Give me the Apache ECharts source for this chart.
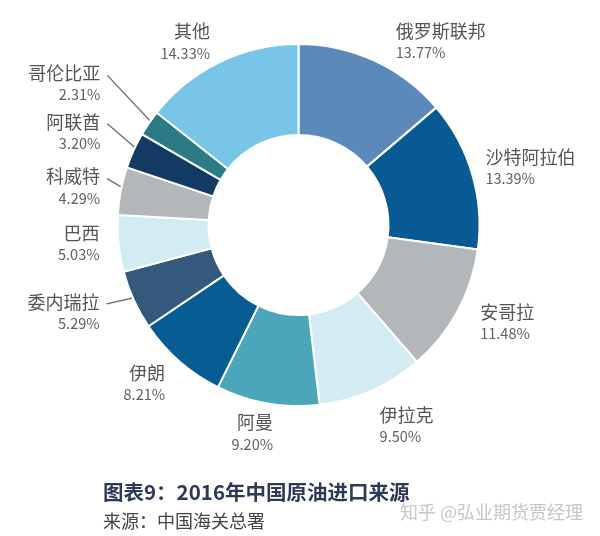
<!DOCTYPE html>
<html>
<head>
<meta charset="utf-8">
<script src="https://cdn.jsdelivr.net/npm/echarts@6/dist/echarts.min.js"></script>
<style>
html,body{margin:0;padding:0;background:#fff;}
#c{width:600px;height:536px;}
</style>
</head>
<body>
<div id="c"></div>
<script>
const countries = ['俄罗斯联邦','沙特阿拉伯','安哥拉','伊拉克','阿曼','伊朗','委内瑞拉','巴西','科威特','阿联酋','哥伦比亚','其他'];
const shares = [13.77,13.39,11.48,9.50,9.20,8.21,5.29,5.03,4.29,3.20,2.31,14.33];

// styling (not data)
const colors = ['#5b8aba','#075a93','#b4b7ba','#d3ebf3','#4ca6ba','#075c94','#34597c','#d3ebf3','#b4b7ba','#123a63','#2c7a85','#79c5e7'];
const withLine = [false,false,false,false,false,false,true,false,true,true,true,false];
const labelNudge = [[8,-1],[-11,-1],[0,2],[-5,17],[14,10],[4,7],[-11,4],[6,-2],[4,0],[-10,-10],[-27,-28],[4,-2]];

const CENTER = [298.5, 225];
const R_OUT = 181;
const FONT = '"Noto Sans CJK SC", "Noto Sans", sans-serif';
const chart = echarts.init(document.getElementById('c'));
chart.setOption({
  animation:false,
  graphic:[
    {type:'text', x:103, y:492, style:{text:'图表9：2016年中国原油进口来源', font:'bold 20.5px '+FONT, fill:'#2c3a57', verticalAlign:'middle'}},
    {type:'text', x:103, y:521, style:{text:'来源：中国海关总署', font:'18px '+FONT, fill:'#444', verticalAlign:'middle'}},
    {type:'text', x:400, y:512, style:{text:'知乎 @弘业期货贾经理', font:'18px '+FONT, fill:'#c6c6c6', verticalAlign:'middle'}}
  ],
  series:[{
    type:'pie',
    center:CENTER,
    radius:[90,R_OUT],
    startAngle:90,
    clockwise:true,
    avoidLabelOverlap:false,
    itemStyle:{borderColor:'#fff', borderWidth:2},
    label:{
      show:true,
      position:'outside',
      formatter:p=>'{n|'+p.name+'}\n{v|'+p.value.toFixed(2)+'%}',
      rich:{
        n:{fontSize:18, fontFamily:FONT, color:'#555', lineHeight:22},
        v:{fontSize:14.5, fontFamily:FONT, color:'#606060', lineHeight:21}
      }
    },
    labelLine:{length:20, length2:0, lineStyle:{color:'#6a6a6a', width:1.3}},
    labelLayout:function(p){
      const i = p.dataIndex;
      const d = labelNudge[i];
      const out = {dx:d[0], dy:d[1], hideOverlap:false};
      if (withLine[i] && p.labelLinePoints) {
        const p0 = p.labelLinePoints[0];
        const k = (R_OUT - 11) / R_OUT;
        const s = [CENTER[0] + (p0[0]-CENTER[0])*k, CENTER[1] + (p0[1]-CENTER[1])*k];
        const r = p.labelRect;
        const right = r.x + r.width + d[0];
        const nameY = r.y + d[1] + 11;
        out.labelLinePoints = [s, [right + 7, nameY]];
      }
      return out;
    },
    data:countries.map((n,i)=>({
      name:n, value:shares[i],
      itemStyle:{color:colors[i]},
      labelLine:{show:withLine[i]}
    }))
  }]
});
</script>
</body>
</html>
